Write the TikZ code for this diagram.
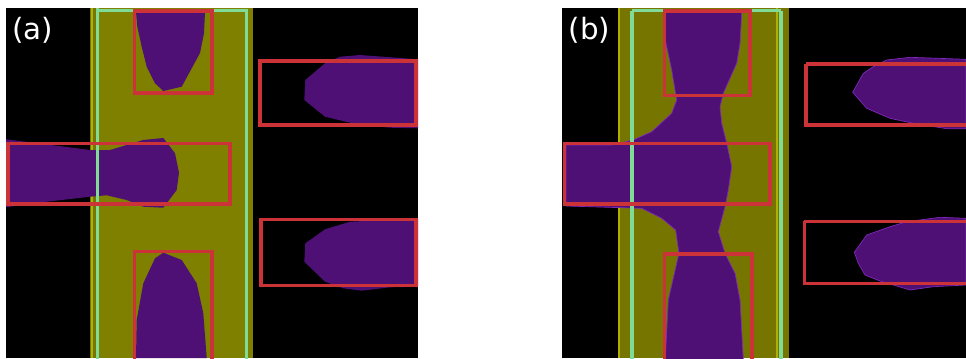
\documentclass[tikz,border=0pt]{standalone}
\usepackage{fontspec}
\setmainfont{DejaVu Sans}
\definecolor{pur}{HTML}{4E1075}
\definecolor{oli}{HTML}{7F7F00}
\definecolor{olib}{HTML}{757500}
\definecolor{redb}{HTML}{CC3338}
\definecolor{grn}{HTML}{7FDB96}
\definecolor{yel}{HTML}{B0B000}
\tikzset{
  panel/.style={fill=black,draw=none},
  fet/.style={fill=oli,draw=none},
  fetb/.style={fill=olib,draw=none},
  flow/.style={fill=pur,draw=none},
  flowb/.style={fill=pur,draw={rgb,255:red,130;green,40;blue,190},line width=0.5pt},
  guard/.style={draw=grn,line width=2.5pt},
  port/.style={draw=redb,line width=2.7pt},
  edge/.style={draw=yel,line width=0.8pt},
  lab/.style={text=white,font=\fontsize{22}{26}\selectfont,inner sep=0pt,anchor=center}
}
\begin{document}
\begin{tikzpicture}[x=0.75pt,y=-0.75pt]
\useasboundingbox (0,0) rectangle (966,358);
\fill[white] (0,0) rectangle (966,358);
\begin{scope}
\clip (0,8) rectangle (966,358);
% panel a
\path[panel] (6,8) rectangle (418,358);
\path[fet] (90,8) rectangle (253,358);
\path[fill=olib] (90,8) rectangle (96,358);
\path[edge] (92,8) -- (92,358);
\path[flow] (136,12) -- (205,12) -- (204,33) -- (200,53) -- (191.7,68.3) -- (181.7,86.7) -- (163.3,91) -- (155,83.3) -- (146.7,66.7) -- (141.7,46.7) -- (137.3,26.7) -- cycle;
\path[flow] (6,139.3) -- (33,142.7) -- (90,150) -- (110,150) -- (143.3,140) -- (163.3,138) -- (175,153.3) -- (179,172.7) -- (176.7,190) -- (163.3,207.7) -- (143.3,206.7) -- (126.7,200) -- (106.7,195.3) -- (90,196.7) -- (33,203.3) -- (6,207.3) -- cycle;
\path[flow] (136,358) -- (136.7,320) -- (143.3,283.3) -- (155,258.3) -- (163.3,252.7) -- (181.7,260) -- (196.7,283.3) -- (203.3,313.3) -- (206.7,358) -- cycle;
\path[flow] (305.3,80) -- (325,63.3) -- (340,56.7) -- (360,55) -- (418,59.3) -- (418,128.3) -- (390,127.7) -- (350,122.7) -- (325,116.7) -- (304.3,100) -- cycle;
\path[flow] (305.3,243.3) -- (325,229.3) -- (350,221.7) -- (418,218.3) -- (418,286.7) -- (390,287.3) -- (361.7,290.7) -- (343.3,288.3) -- (325,281.7) -- (304.3,261.7) -- cycle;
\draw[guard] (97.5,-5) -- (97.5,10.7) -- (246.7,10.7) -- (246.7,365) (97.5,10.7) -- (97.5,365);
\draw[port] (134.3,10.8) rectangle (212,93);
\draw[port] (8,143.3) rectangle (229.7,204);
\draw[port] (134.3,251.3) rectangle (212,370);
\draw[port] (260,61) rectangle (416,125);
\draw[port] (261,219.3) rectangle (416,285.3);
% panel b
\path[panel] (562,8) rectangle (966,358);
\path[fetb] (618.3,8) rectangle (789.3,358);
\path[edge] (619,8) -- (619,358);
\path[edge] (777,8) -- (777,358);
\path[flowb] (665.3,12.3) -- (741.7,12.3) -- (740,43.3) -- (736.7,63.3) -- (723.3,93.3) -- (720,106.7) -- (721.7,123.3) -- (726.7,143.3) -- (731.7,166.7) -- (728.3,190) -- (725,206.7) -- (718.3,231.7) -- (725,253.3) -- (735,273.3) -- (740,300) -- (743.3,360) -- (665.3,360) -- (668.3,300) -- (679,253.3) -- (675.7,230) -- (661.7,218.3) -- (641.7,208.3) -- (566,206) -- (566,145) -- (611.7,145) -- (633.3,140) -- (651.7,131.7) -- (671.7,113.3) -- (676.7,100) -- (671.7,70) -- (665.3,40) -- cycle;
\path[flowb] (852.7,92.3) -- (863.3,73.3) -- (873.3,66.7) -- (886.7,60) -- (910,57.3) -- (966,59.3) -- (966,128.7) -- (946.7,128.7) -- (913.3,123.3) -- (890,118.3) -- (866.7,108.3) -- cycle;
\path[flowb] (854.3,252.3) -- (866.7,235) -- (890,226.7) -- (906.7,221.7) -- (940,217.3) -- (966,218.3) -- (966,285) -- (933.3,286.7) -- (910,290) -- (880,281) -- (865,275) -- (858.3,263.3) -- cycle;
\draw[guard] (632,10.7) -- (781,10.7) (632,10.7) -- (632,365) (781,10.7) -- (781,365);
\draw[port] (664.3,10.7) rectangle (750.2,95.5);
\draw[port] (564.3,143.3) rectangle (770,204);
\draw[port] (664.3,253.7) rectangle (752,370);
\draw[port] (806.2,64) -- (975,64) (806.2,64) -- (806.2,125) -- (975,125);
\draw[port] (804.3,221.3) -- (975,221.3) (804.3,221.3) -- (804.3,283.3) -- (975,283.3);
\end{scope}
\node[lab] (a) at (32.5,30) {(a)};
\node[lab] (b) at (589.5,30) {(b)};
\end{tikzpicture}
\end{document}
